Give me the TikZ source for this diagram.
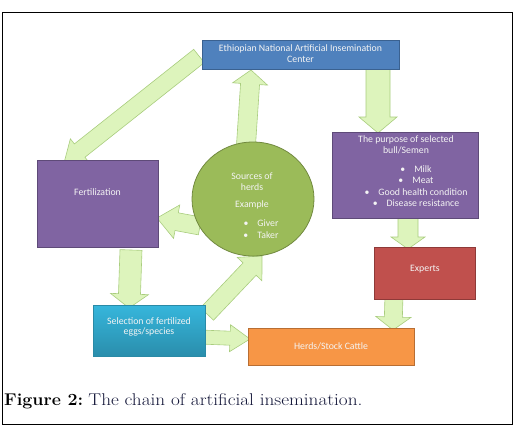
\documentclass[tikz,border=0pt]{standalone}
\usepackage{fontspec}
\usepackage{graphicx}
\usetikzlibrary{calc,shapes.geometric}
\newfontfamily\boxfont{Carlito}
\definecolor{topfill}{HTML}{4F81BD}\definecolor{topdraw}{HTML}{3A6190}
\definecolor{purfill}{HTML}{8064A2}\definecolor{purdraw}{HTML}{5E4A78}
\definecolor{grnfill}{HTML}{9BBB59}\definecolor{grndraw}{HTML}{71893F}
\definecolor{redfill}{HTML}{C0504D}\definecolor{reddraw}{HTML}{8E3A38}
\definecolor{orgfill}{HTML}{F79646}\definecolor{orgdraw}{HTML}{B86E33}
\definecolor{cyantop}{HTML}{36B6DC}\definecolor{cyanbot}{HTML}{2A8EAC}\definecolor{cyandraw}{HTML}{2A8AA6}
\definecolor{arrfill}{HTML}{DDF4BC}\definecolor{arrdraw}{HTML}{A9CD7E}
\definecolor{txtcol}{HTML}{F4F4F4}
\definecolor{capcol}{HTML}{15183A}
\newcommand\blockarrow[5]{%
  \path[barrow] let \p1=(#1), \p2=(#2),
    \n1={atan2(\y2-\y1,\x2-\x1)},
    \n2={veclen(\x2-\x1,\y2-\y1)} in
    ($(\p1)+({\n1+90}:#3)$)
    -- ($(\p1)+({\n1}:{\n2-#5})+({\n1+90}:#3)$)
    -- ($(\p1)+({\n1}:{\n2-#5})+({\n1+90}:#4)$)
    -- (\p2)
    -- ($(\p1)+({\n1}:{\n2-#5})+({\n1-90}:#4)$)
    -- ($(\p1)+({\n1}:{\n2-#5})+({\n1-90}:#3)$)
    -- ($(\p1)+({\n1-90}:#3)$) -- cycle;}
\begin{document}
\begin{tikzpicture}[x=1pt,y=-1pt,
  barrow/.style={draw=arrdraw,fill=arrfill,line width=0.6pt,line join=miter},
  boxnode/.style={inner sep=0pt,outer sep=0pt,line width=0.8pt},
  txt/.style={inner sep=0pt,text=txtcol,font=\boxfont\fontsize{9.8}{10.8}\selectfont,align=center}]
\useasboundingbox (0,0) rectangle (516,428);
\node[draw,boxnode,minimum width=510,minimum height=412] (frame) at (257.5,218) {};
% arrow end points
\coordinate (a1s) at (199,56);  \coordinate (a1e) at (64,163);
\coordinate (a2s) at (245,160); \coordinate (a2e) at (251,70);
\coordinate (a3s) at (200,226); \coordinate (a3e) at (157,218);
\coordinate (a4s) at (131,250); \coordinate (a4e) at (129,308);
\coordinate (a5s) at (207,314); \coordinate (a5e) at (262,256);
\coordinate (a6s) at (200,337); \coordinate (a6e) at (250,339);
\coordinate (a7s) at (408,214); \coordinate (a7e) at (408,249);
\coordinate (a8s) at (394,295); \coordinate (a8e) at (393,330);
\coordinate (a9s) at (378,66);  \coordinate (a9e) at (378,133);
\blockarrow{a1s}{a1e}{8.5pt}{15pt}{20pt}
\blockarrow{a2s}{a2e}{9.5pt}{17.5pt}{14pt}
\blockarrow{a3s}{a3e}{9pt}{17pt}{20pt}
\blockarrow{a4s}{a4e}{11pt}{19pt}{14pt}
\blockarrow{a5s}{a5e}{9pt}{17pt}{18pt}
\blockarrow{a6s}{a6e}{7pt}{13.5pt}{20pt}
\blockarrow{a7s}{a7e}{10pt}{17pt}{12pt}
\blockarrow{a8s}{a8e}{9pt}{17.5pt}{13pt}
\blockarrow{a9s}{a9e}{12pt}{19pt}{16pt}
% boxes
\node[boxnode,draw=topdraw,fill=topfill,minimum width=197,minimum height=29] (top) at (300.5,54.5) {};
\node[boxnode,draw=purdraw,fill=purfill,minimum width=146,minimum height=86] (purpose) at (405,175) {};
\node[boxnode,draw=purdraw,fill=purfill,minimum width=121,minimum height=87] (fert) at (97.5,203.5) {};
\node[boxnode,ellipse,draw=grndraw,fill=grnfill,minimum width=122,minimum height=114] (src) at (253,199) {};
\node[boxnode,draw=reddraw,fill=redfill,minimum width=101,minimum height=52] (experts) at (424.5,273) {};
\node[boxnode,draw=cyandraw,top color=cyantop,bottom color=cyanbot,minimum width=112,minimum height=51] (sel) at (149,330.5) {};
\node[boxnode,draw=orgdraw,fill=orgfill,minimum width=166,minimum height=37] (herds) at (331,346.5) {};
% texts
\node[txt] (toptxt) at (300.5,54) {Ethiopian National Artificial Insemination\\Center};
\node[txt] (purtxt) at (406,145) {The purpose of selected\\bull/Semen};
\node[txt,font=\boxfont\fontsize{9.8}{11.5}\selectfont] (purlist) at (416,186) {\textbullet\hspace{9pt}Milk\\\textbullet\hspace{9pt}Meat\\\textbullet\hspace{9pt}Good health condition\\\textbullet\hspace{9pt}Disease resistance};
\node[txt] (ferttxt) at (97.5,192) {Fertilization};
\node[txt] (srctxt) at (252,181.5) {Sources of\\herds};
\node[txt] (srcex) at (252,205) {Example};
\node[txt,font=\boxfont\fontsize{9.8}{12}\selectfont] (srclist) at (261,229) {\textbullet\hspace{9pt}Giver\\\textbullet\hspace{9pt}Taker};
\node[txt] (exptxt) at (425,269) {Experts};
\node[txt] (seltxt) at (149,327) {Selection of fertilized\\eggs/species};
\node[txt] (herdstxt) at (331,346) {Herds/Stock Cattle};
\node[anchor=base west,inner sep=0pt] (caption) at (4,405) {\fontsize{17}{20}\selectfont\scalebox{1.05}[1]{\textbf{Figure 2:}} \textcolor{capcol}{\scalebox{1.13}[1]{The chain of artificial insemination.}}};
\end{tikzpicture}
\end{document}
